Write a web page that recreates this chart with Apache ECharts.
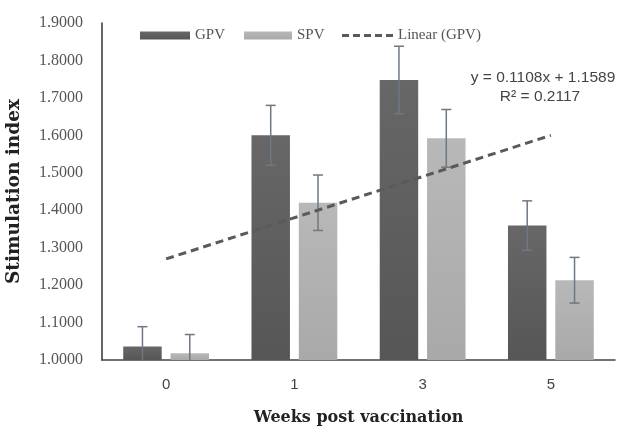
<!DOCTYPE html>
<html>
<head>
<meta charset="utf-8">
<script src="https://cdn.jsdelivr.net/npm/echarts@6/dist/echarts.min.js"></script>
<style>html,body{margin:0;padding:0;background:#fff;}#c{width:618px;height:431px;}</style>
</head>
<body>
<div id="c"></div>
<script>
var categories = ['0', '1', '3', '5'];
var gpv = [1.036, 1.600, 1.748, 1.359];
var spv = [1.018, 1.420, 1.592, 1.213];
var gpvErr = [0.053, 0.080, 0.090, 0.066];
var spvErr = [0.050, 0.074, 0.077, 0.061];
var trendLine = [1.27, null, null, 1.60];
var yTicks = { min: 1.0, max: 1.9, interval: 0.1 };
var equationText = ['y = 0.1108x + 1.1589', 'R\u00b2 = 0.2117'];

var chart = echarts.init(document.getElementById('c'), null, { renderer: 'canvas' });
var serif = '"Liberation Serif", "DejaVu Serif", serif';
var titleSerif = '"DejaVu Serif", "Liberation Serif", serif';
var sans = '"Liberation Sans", Arial, sans-serif';

function errSeries(name, vals, errs, sign) {
  var data = vals.map(function (v, i) { return [i, v, errs[i]]; });
  return {
    type: 'custom',
    name: name + ' err',
    z: 5,
    silent: true,
    clip: true,
    data: data,
    renderItem: function (params, api) {
      var idx = api.value(0);
      var v = api.value(1), e = api.value(2);
      var band = api.size([1, 0])[0];
      var bw = band * 0.30, gap = bw * 0.23;
      var off = sign * (bw + gap) / 2;
      var pTop = api.coord([idx, v + e]);
      var pBot = api.coord([idx, v - e]);
      var x = pTop[0] + off;
      var cap = 5;
      var style = { stroke: '#6d7883', lineWidth: 1.5 };
      return {
        type: 'group',
        children: [
          { type: 'line', shape: { x1: x, y1: pTop[1], x2: x, y2: pBot[1] }, style: style },
          { type: 'line', shape: { x1: x - cap, y1: pTop[1], x2: x + cap, y2: pTop[1] }, style: style },
          { type: 'line', shape: { x1: x - cap, y1: pBot[1], x2: x + cap, y2: pBot[1] }, style: style }
        ]
      };
    }
  };
}

var legendText = { fontFamily: serif, fontSize: 15, color: '#555' };
var dashIcon = 'path://M0,0h7v3h-7z M11,0h7v3h-7z M22,0h7v3h-7z M33,0h7v3h-7z M44,0h7v3h-7z';

var option = {
  backgroundColor: '#ffffff',
  animation: false,
  grid: { left: 102, right: 3, top: 23, bottom: 71, containLabel: false, outerBoundsMode: 'none' },
  legend: [
    { top: 23, left: 135, itemWidth: 50, itemHeight: 8, textStyle: legendText,
      data: [{ name: 'GPV', icon: 'rect' }] },
    { top: 23, left: 239, itemWidth: 48, itemHeight: 8, textStyle: legendText,
      data: [{ name: 'SPV', icon: 'rect' }] },
    { top: 23, left: 337, itemWidth: 51, itemHeight: 8, textStyle: legendText,
      data: [{ name: 'Linear (GPV)', icon: dashIcon, itemStyle: { color: '#5a5a5a' } }] }
  ],
  xAxis: {
    type: 'category',
    data: categories,
    axisLine: { lineStyle: { color: '#444', width: 1.5 } },
    axisTick: { show: false },
    axisLabel: { fontFamily: sans, fontSize: 15, color: '#444', margin: 17 },
    name: 'Weeks post vaccination',
    nameLocation: 'middle',
    nameGap: 50,
    nameTextStyle: { fontFamily: titleSerif, fontSize: 16, fontWeight: 'bold', color: '#222' }
  },
  yAxis: {
    type: 'value',
    min: yTicks.min,
    max: yTicks.max,
    interval: yTicks.interval,
    axisLine: { show: true, lineStyle: { color: '#333', width: 1.5 } },
    axisTick: { show: false },
    splitLine: { show: false },
    axisLabel: {
      fontFamily: serif, fontSize: 16, color: '#555', margin: 19,
      formatter: function (v) { return v.toFixed(4); }
    },
    name: 'Stimulation index',
    nameLocation: 'middle',
    nameGap: 78,
    nameTextStyle: { fontFamily: titleSerif, fontSize: 18.5, fontWeight: 'bold', color: '#222' }
  },
  series: [
    {
      name: 'GPV', type: 'bar', data: gpv, barWidth: '30%', barGap: '23%',
      itemStyle: {
        color: new echarts.graphic.LinearGradient(0, 0, 0, 1, [
          { offset: 0, color: '#676767' }, { offset: 1, color: '#565656' }
        ])
      }
    },
    {
      name: 'SPV', type: 'bar', data: spv, barWidth: '30%', barGap: '23%',
      itemStyle: {
        color: new echarts.graphic.LinearGradient(0, 0, 0, 1, [
          { offset: 0, color: '#b8b8b8' }, { offset: 1, color: '#a9a9a9' }
        ])
      }
    },
    {
      name: 'Linear (GPV)', type: 'line', data: trendLine, connectNulls: true,
      symbol: 'none', z: 6,
      itemStyle: { color: '#5a5a5a' },
      lineStyle: { color: '#5a5a5a', width: 3, type: [8, 5] }
    },
    errSeries('GPV', gpv, gpvErr, -1),
    errSeries('SPV', spv, spvErr, 1)
  ],
  graphic: [
    {
      type: 'text', x: 543, y: 70,
      style: { text: equationText[0], fontFamily: sans, fontSize: 15.5, fill: '#444', align: 'center' }
    },
    {
      type: 'text', x: 540, y: 89,
      style: { text: equationText[1], fontFamily: sans, fontSize: 15.5, fill: '#444', align: 'center' }
    }
  ]
};
chart.setOption(option);
</script>
</body>
</html>
